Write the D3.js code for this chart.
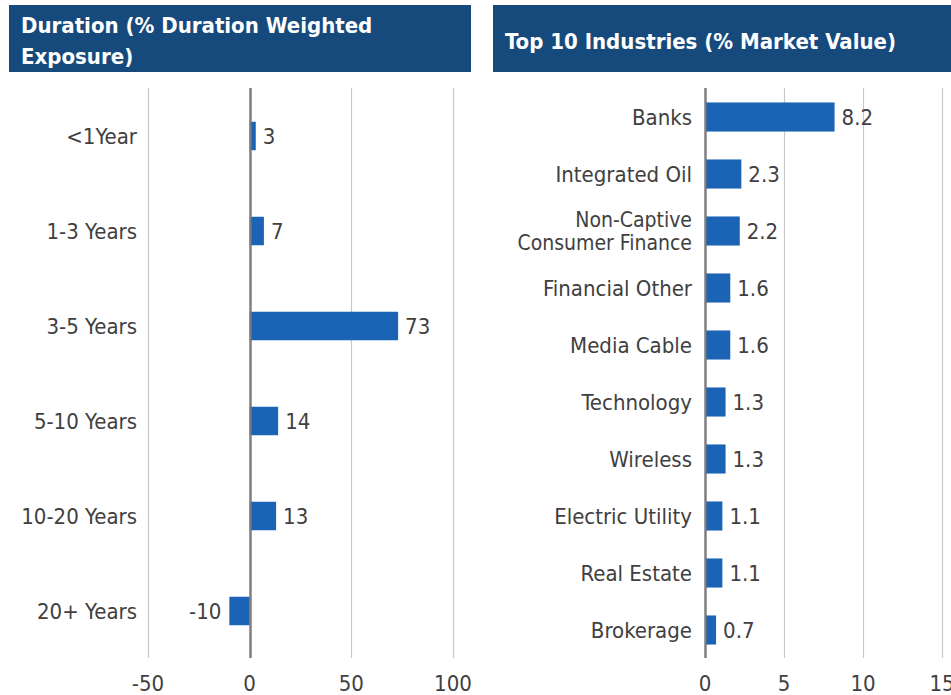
<!DOCTYPE html>
<html>
<head>
<meta charset="utf-8">
<script src="https://cdn.jsdelivr.net/npm/d3@7"></script>
<style>
  body { margin: 0; background: #fff; }
  svg { display: block; }
  text { font-family: "Liberation Sans Narrow", "DejaVu Sans Condensed", sans-serif; }
</style>
</head>
<body>
<svg id="chart"></svg>
<script>
var width = 951;
var height = 695;

// duration panel
var durationCats = ["<1Year", "1-3 Years", "3-5 Years", "5-10 Years", "10-20 Years", "20+ Years"];
var durationVals = [3, 7, 73, 14, 13, -10];
var durationTicks = [-50, 0, 50, 100];

// industries panel
var industryCats = ["Banks", "Integrated Oil", "Non-Captive Consumer Finance", "Financial Other", "Media Cable",
                    "Technology", "Wireless", "Electric Utility", "Real Estate", "Brokerage"];
var industryVals = [8.2, 2.3, 2.2, 1.6, 1.6, 1.3, 1.3, 1.1, 1.1, 0.7];
var industryTicks = [0, 5, 10, 15];

var barColor = "#1b63b5";
var headColor = "#174a7c";
var textColor = "#404040";

var svg = d3.select("#chart")
    .attr("width", width)
    .attr("height", height);

// headers
svg.append("rect").attr("x", 9).attr("y", 5).attr("width", 462).attr("height", 67).attr("fill", headColor);
svg.append("rect").attr("x", 493).attr("y", 5).attr("width", 458).attr("height", 67).attr("fill", headColor);

var head1 = svg.append("text")
    .attr("x", 21).attr("y", 33)
    .attr("fill", "#fff")
    .style("font-family", "'DejaVu Sans Condensed', sans-serif")
    .style("font-weight", "bold")
    .style("font-size", "22px");
head1.append("tspan").attr("x", 21).text("Duration (% Duration Weighted");
head1.append("tspan").attr("x", 21).attr("dy", 31).text("Exposure)");

svg.append("text")
    .attr("x", 505).attr("y", 49)
    .attr("fill", "#fff")
    .style("font-family", "'DejaVu Sans Condensed', sans-serif")
    .style("font-weight", "bold")
    .style("font-size", "22px")
    .text("Top 10 Industries (% Market Value)");

function drawPanel(opts) {
  var g = svg.append("g");

  var x = d3.scaleLinear()
      .domain(opts.domain)
      .range(opts.xRange);

  var y = d3.scaleBand()
      .domain(opts.cats)
      .range([88.5, 658.5])
      .paddingInner(opts.pad)
      .paddingOuter(opts.pad / 2);

  // gridlines
  g.selectAll(".grid")
    .data(opts.ticks)
    .enter().append("line")
      .attr("x1", function(d) { return Math.round(x(d)) + 0.5; })
      .attr("x2", function(d) { return Math.round(x(d)) + 0.5; })
      .attr("y1", 88)
      .attr("y2", 658)
      .attr("stroke", function(d) { return d === 0 ? "#7f7f7f" : "#c8c8c8"; })
      .attr("stroke-width", function(d) { return d === 0 ? 2 : 1.2; });

  // bars
  g.selectAll(".bar")
    .data(opts.vals)
    .enter().append("rect")
      .attr("x", function(d) { return x(Math.min(0, d)); })
      .attr("y", function(d, i) { return y(opts.cats[i]); })
      .attr("width", function(d) { return Math.abs(x(d) - x(0)); })
      .attr("height", y.bandwidth())
      .attr("fill", barColor);

  // zero line on top
  g.append("line")
    .attr("x1", Math.round(x(0)) + 0.5).attr("x2", Math.round(x(0)) + 0.5)
    .attr("y1", 88).attr("y2", 658)
    .attr("stroke", "#7f7f7f").attr("stroke-width", 2);

  // value labels
  g.selectAll(".val")
    .data(opts.vals)
    .enter().append("text")
      .attr("x", function(d) { return d < 0 ? x(d) - 8 : x(d) + 7; })
      .attr("y", function(d, i) { return y(opts.cats[i]) + y.bandwidth() / 2; })
      .attr("dy", "0.35em")
      .attr("text-anchor", function(d) { return d < 0 ? "end" : "start"; })
      .attr("fill", textColor)
      .style("font-size", "22px")
      .text(function(d) { return d; });

  // category labels
  g.selectAll(".cat")
    .data(opts.cats)
    .enter().append("text")
      .attr("x", opts.labelX)
      .attr("y", function(d) { return y(d) + y.bandwidth() / 2; })
      .attr("text-anchor", "end")
      .attr("fill", textColor)
      .style("font-size", function(d) { return opts.wrap[d] ? "21px" : "22px"; })
      .each(function(d) {
        var t = d3.select(this);
        var lines = opts.wrap[d] || [d];
        lines.forEach(function(line, k) {
          t.append("tspan")
            .attr("x", opts.labelX)
            .attr("dy", k === 0 ? (0.35 - (lines.length - 1) * 0.55) + "em" : "1.1em")
            .text(line);
        });
      });

  // tick labels
  g.selectAll(".tick")
    .data(opts.ticks)
    .enter().append("text")
      .attr("x", function(d) { return x(d); })
      .attr("y", 683)
      .attr("dy", "0.35em")
      .attr("text-anchor", "middle")
      .attr("fill", textColor)
      .style("font-size", "22px")
      .text(function(d) { return d; });
}

drawPanel({
  cats: durationCats,
  vals: durationVals,
  ticks: durationTicks,
  domain: [-50, 100],
  xRange: [148, 453],
  pad: 0.7,
  labelX: 137,
  wrap: {}
});

drawPanel({
  cats: industryCats,
  vals: industryVals,
  ticks: industryTicks,
  domain: [0, 15],
  xRange: [705, 942],
  pad: 0.49,
  labelX: 692,
  wrap: { "Non-Captive Consumer Finance": ["Non-Captive", "Consumer Finance"] }
});
</script>
</body>
</html>
